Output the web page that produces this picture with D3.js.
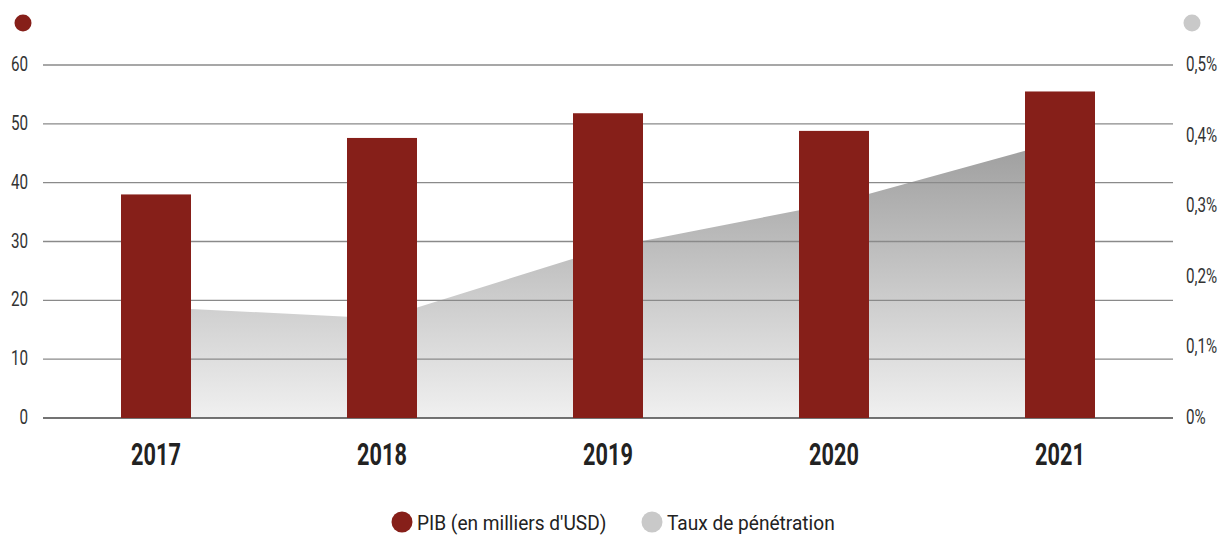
<!DOCTYPE html>
<html>
<head>
<meta charset="utf-8">
<script src="https://cdn.jsdelivr.net/npm/d3@7"></script>
<style>
  html, body { margin: 0; padding: 0; background: #fff; }
  svg { display: block; }
  text { font-family: Roboto, "Noto Sans", sans-serif; }
  .tick-label { font-size: 19.5px; fill: #333; }
  .year { font-size: 31px; font-weight: bold; fill: #222; }
  .legend { font-size: 21px; fill: #222; }
</style>
</head>
<body>
<svg id="chart" width="1221" height="536"></svg>
<script>
// Years on the x axis
const years = ["2017", "2018", "2019", "2020", "2021"];
// GDP, thousands of USD (left axis)
const pib = [38, 47.6, 51.8, 48.8, 55.5];
// Penetration rate, % (right axis)
const taux = [0.157, 0.141, 0.241, 0.304, 0.392];
// Tick values
const leftTicks = [0, 10, 20, 30, 40, 50, 60];
const rightTicks = [0, 0.1, 0.2, 0.3, 0.4, 0.5];
const legendLabels = ["PIB (en milliers d'USD)", "Taux de pénétration"];

const RED = "#861f19";
const GREY = "#c9c9c9";

const svg = d3.select("#chart");
const plotLeft = 43, plotRight = 1173, plotTop = 65, plotBottom = 418;

const x = d3.scaleBand().domain(years).range([plotLeft, plotRight]).padding(0);
const yL = d3.scaleLinear().domain([0, 60]).range([plotBottom, plotTop]);
const yR = d3.scaleLinear().domain([0, 0.5]).range([plotBottom, plotTop]);
const barW = 70;
const cx = d => x(d) + x.bandwidth() / 2;

// Narrow typeface look: horizontally squeezed text placed at (px, py)
const place = (px, py, k) => `translate(${px},${py}) scale(${k},1)`;

// Area gradient
const defs = svg.append("defs");
const grad = defs.append("linearGradient")
  .attr("id", "areaGrad").attr("gradientUnits", "userSpaceOnUse")
  .attr("x1", 0).attr("y1", yR(0.39)).attr("x2", 0).attr("y2", plotBottom);
grad.append("stop").attr("offset", "0%").attr("stop-color", "#9e9e9e");
grad.append("stop").attr("offset", "100%").attr("stop-color", "#f0f0f0");

// Penetration area (behind the grid)
const area = d3.area()
  .x((d, i) => cx(years[i]))
  .y0(plotBottom)
  .y1(d => yR(d));
svg.append("path").datum(taux).attr("d", area).attr("fill", "url(#areaGrad)");

// Grid lines
svg.append("g").selectAll("line").data(leftTicks).join("line")
  .attr("x1", plotLeft).attr("x2", plotRight)
  .attr("y1", d => yL(d)).attr("y2", d => yL(d))
  .attr("stroke", d => d === 0 ? "#444" : "#8a8a8a")
  .attr("stroke-width", 1.3);

// Left axis labels
svg.append("g").selectAll("text").data(leftTicks).join("text")
  .attr("class", "tick-label")
  .attr("transform", d => place(28, yL(d) + 6, 0.78))
  .attr("text-anchor", "end")
  .text(d => d);

// Right axis labels
svg.append("g").selectAll("text").data(rightTicks).join("text")
  .attr("class", "tick-label")
  .attr("transform", d => place(1186, yR(d) + 6, 0.78))
  .attr("text-anchor", "start")
  .text(d => d === 0 ? "0%" : d3.format(".1f")(d).replace(".", ",") + "%");

// Bars
svg.append("g").selectAll("rect").data(pib).join("rect")
  .attr("x", (d, i) => cx(years[i]) - barW / 2)
  .attr("width", barW)
  .attr("y", d => yL(d))
  .attr("height", d => plotBottom - yL(d))
  .attr("fill", RED);

// Year labels
svg.append("g").selectAll("text").data(years).join("text")
  .attr("class", "year")
  .attr("transform", d => place(cx(d), 465, 0.7))
  .attr("text-anchor", "middle")
  .text(d => d);

// Axis markers
svg.append("circle").attr("cx", 23).attr("cy", 23).attr("r", 8.5).attr("fill", RED);
svg.append("circle").attr("cx", 1192).attr("cy", 23).attr("r", 8.5).attr("fill", GREY);

// Legend
const legend = [
  { label: legendLabels[0], color: RED, x: 402 },
  { label: legendLabels[1], color: GREY, x: 652 }
];
const lg = svg.append("g").selectAll("g").data(legend).join("g")
  .attr("transform", d => `translate(${d.x},522)`);
lg.append("circle").attr("r", 10.5).attr("fill", d => d.color);
lg.append("text").attr("class", "legend")
  .attr("transform", place(15, 7.5, 0.91))
  .text(d => d.label);
</script>
</body>
</html>
